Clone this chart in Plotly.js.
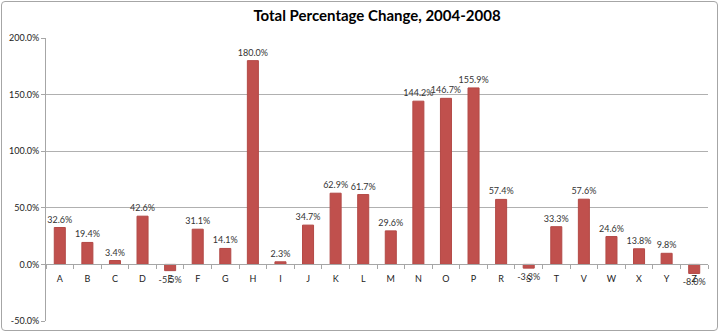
<!DOCTYPE html>
<html>
<head>
<meta charset="utf-8">
<script src="https://cdn.plot.ly/plotly-3.0.1.min.js"></script>
<style>
  html, body { margin: 0; padding: 0; background: #fff; }
  #wrap { position: relative; width: 720px; height: 332px; }
  #chart { width: 720px; height: 332px; }
  #frame { position: absolute; left: 1px; top: 1px; width: 715px; height: 328px;
           border: 1px solid #a6a6a6; border-radius: 4px; pointer-events: none; }
</style>
</head>
<body>
<div id="wrap">
  <div id="chart"></div>
  <div id="frame"></div>
</div>
<script>
const categories = ["A","B","C","D","E","F","G","H","I","J","K","L","M","N","O","P","R","S","T","V","W","X","Y","Z"];
const changes = [32.6, 19.4, 3.4, 42.6, -5.5, 31.1, 14.1, 180.0, 2.3, 34.7, 62.9, 61.7, 29.6, 144.2, 146.7, 155.9, 57.4, -3.3, 33.3, 57.6, 24.6, 13.8, 9.8, -8.0];
const yTicks = [-50, 0, 50, 100, 150, 200];

const FONT = "Lato, 'Liberation Sans', sans-serif";

const trace = {
  type: "bar",
  x: categories,
  y: changes,
  xaxis: "x",
  yaxis: "y",
  marker: { color: "#C0504D", line: { color: "#B34946", width: 1 } },
  text: changes.map(v => v.toFixed(1) + "%"),
  textposition: "outside",
  constraintext: "none",
  cliponaxis: false,
  textfont: { family: FONT, size: 9, color: "#333333" },
  hoverinfo: "x+y"
};

const layout = {
  width: 720,
  height: 332,
  margin: { l: 46, r: 12, t: 38, b: 11 },
  paper_bgcolor: "#ffffff",
  plot_bgcolor: "#ffffff",
  showlegend: false,
  bargap: 0.6,
  uniformtext: { mode: false },
  title: {
    text: "Total Percentage Change, 2004-2008",
    font: { family: FONT, size: 15, color: "#000000", weight: "bold" },
    x: 0.5, xanchor: "center", xref: "paper",
    y: 1, yref: "container", yanchor: "top", pad: { t: 10 }
  },
  xaxis: {
    type: "category",
    anchor: "free",
    position: 0.2,
    showline: true,
    linecolor: "#a6a6a6",
    linewidth: 1,
    ticks: "outside",
    tickson: "boundaries",
    ticklen: 4,
    tickcolor: "#a6a6a6",
    ticklabelstandoff: 6,
    showgrid: false,
    zeroline: false,
    tickfont: { family: FONT, size: 9, color: "#222222" },
    fixedrange: true
  },
  yaxis: {
    range: [-50, 200],
    tickvals: yTicks,
    ticktext: yTicks.map(v => v.toFixed(1) + "%"),
    showline: true,
    linecolor: "#a6a6a6",
    linewidth: 1,
    ticks: "outside",
    ticklen: 4,
    tickcolor: "#a6a6a6",
    showgrid: true,
    gridcolor: "#b0b0b0",
    gridwidth: 1,
    zeroline: false,
    tickfont: { family: FONT, size: 9, color: "#222222" },
    fixedrange: true
  }
};

Plotly.newPlot("chart", [trace], layout, { displayModeBar: false, staticPlot: true });
</script>
</body>
</html>
